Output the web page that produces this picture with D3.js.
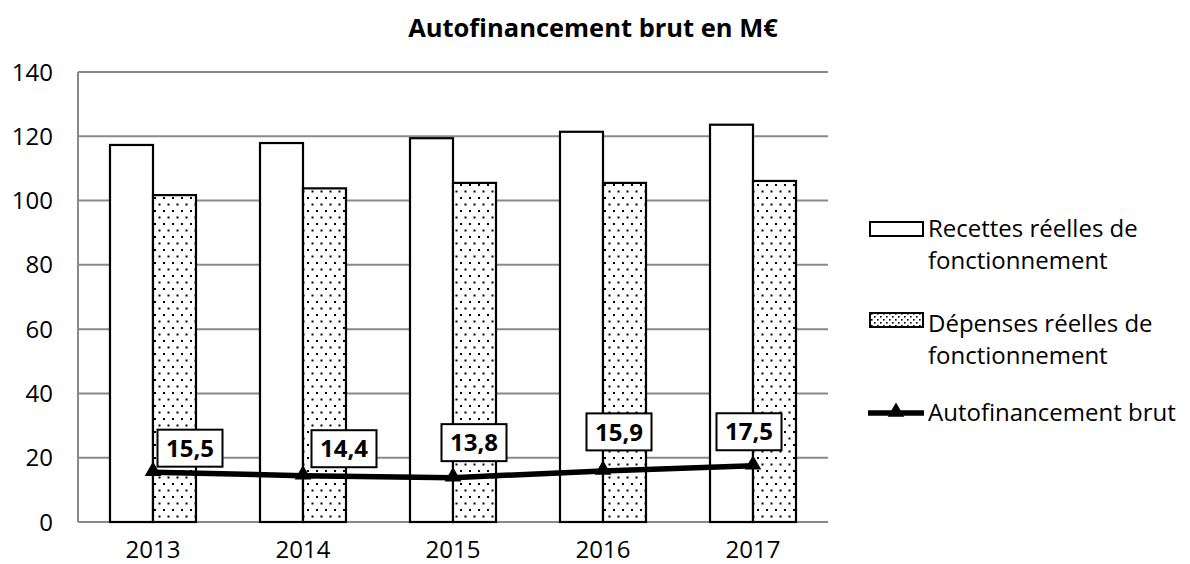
<!DOCTYPE html>
<html><head><meta charset="utf-8">
<script src="https://cdn.jsdelivr.net/npm/d3@7"></script>
<style>body{margin:0;background:#fff}svg{display:block}text{font-family:"Open Sans",sans-serif}</style>
</head><body>
<script>
const years = ["2013","2014","2015","2016","2017"];
const recettes = [117.3, 117.9, 119.4, 121.4, 123.6];
const depenses = [101.7, 103.8, 105.5, 105.5, 106.1];
const autofin = [15.5, 14.4, 13.8, 15.9, 17.5];
const yTicks = [0,20,40,60,80,100,120,140];
const seriesNames = ["Recettes réelles de|fonctionnement","Dépenses réelles de|fonctionnement","Autofinancement brut"];
const title = "Autofinancement brut en M€";
// manual label placement (layout, px offsets from point)
const labelDx = [37, 41, 21, 16, -4];
const labelDy = [-24, -27, -35, -39, -34];

const W = 1190, H = 564;
const svg = d3.select("body").append("svg").attr("width", W).attr("height", H);
const defs = svg.append("defs");
const pat = defs.append("pattern").attr("id","dots").attr("patternUnits","userSpaceOnUse")
  .attr("width",9).attr("height",13);
pat.append("rect").attr("width",9).attr("height",13).attr("fill","#fff");
pat.append("rect").attr("x",1).attr("y",2).attr("width",2).attr("height",2).attr("fill","#000");
pat.append("rect").attr("x",5.5).attr("y",8.5).attr("width",2).attr("height",2).attr("fill","#000");
const pat2 = defs.append("pattern").attr("id","dots2").attr("patternUnits","userSpaceOnUse")
  .attr("width",6).attr("height",6);
pat2.append("rect").attr("width",6).attr("height",6).attr("fill","#fff");
pat2.append("rect").attr("x",1).attr("y",1).attr("width",1.6).attr("height",1.6).attr("fill","#000");
pat2.append("rect").attr("x",4).attr("y",4).attr("width",1.6).attr("height",1.6).attr("fill","#000");

const x = d3.scaleBand().domain(years).range([78, 828]).paddingInner(0.4267).paddingOuter(0.2133);
const x1 = d3.scaleBand().domain([0,1]).range([0, x.bandwidth()]);
const y = d3.scaleLinear().domain([0,140]).range([522, 72]);

// gridlines
svg.append("g").selectAll("line").data(yTicks.filter(d=>d>0)).join("line")
  .attr("x1",78).attr("x2",828).attr("y1",d=>y(d)).attr("y2",d=>y(d))
  .attr("stroke","#898989").attr("stroke-width",2);
// axes lines
svg.append("line").attr("x1",78).attr("x2",78).attr("y1",y(140)).attr("y2",y(0)).attr("stroke","#898989").attr("stroke-width",2);
svg.append("line").attr("x1",78).attr("x2",828).attr("y1",y(0)).attr("y2",y(0)).attr("stroke","#898989").attr("stroke-width",2);

// y tick labels
svg.append("g").selectAll("text").data(yTicks).join("text")
  .attr("x",53).attr("y",d=>y(d)).attr("dy","0.36em").attr("text-anchor","end")
  .attr("font-size",24).text(d=>d);
// x labels
svg.append("g").selectAll("text").data(years).join("text")
  .attr("x",d=>x(d)+x.bandwidth()/2).attr("y",558).attr("text-anchor","middle")
  .attr("font-size",24).text(d=>d);

// bars
const g = svg.append("g");
g.selectAll("rect.r").data(years).join("rect").attr("class","r")
  .attr("x",d=>x(d)+x1(0)).attr("width",x1.bandwidth())
  .attr("y",(d,i)=>y(recettes[i])).attr("height",(d,i)=>y(0)-y(recettes[i]))
  .attr("fill","#fff").attr("stroke","#000").attr("stroke-width",2.2);
g.selectAll("rect.d").data(years).join("rect").attr("class","d")
  .attr("x",d=>x(d)+x1(1)).attr("width",x1.bandwidth())
  .attr("y",(d,i)=>y(depenses[i])).attr("height",(d,i)=>y(0)-y(depenses[i]))
  .attr("fill","url(#dots)").attr("stroke","#000").attr("stroke-width",2.2);

// line
const cx = d => x(d)+x.bandwidth()/2;
const line = d3.line().x((d,i)=>cx(years[i])).y(d=>y(d));
svg.append("path").datum(autofin).attr("d",line).attr("fill","none").attr("stroke","#000").attr("stroke-width",5.5);
const tri = d3.symbol().type(d3.symbolTriangle).size(120);
svg.append("g").selectAll("path").data(autofin).join("path")
  .attr("d",tri).attr("transform",(d,i)=>`translate(${cx(years[i])},${y(d)-1})`).attr("fill","#000");

// labels
const lab = svg.append("g").selectAll("g").data(autofin).join("g")
  .attr("transform",(d,i)=>`translate(${cx(years[i])+labelDx[i]},${y(d)+labelDy[i]})`);
lab.append("rect").attr("x",-32.5).attr("y",-18.5).attr("width",65).attr("height",37)
  .attr("fill","#fff").attr("stroke","#000").attr("stroke-width",2);
lab.append("text").attr("text-anchor","middle").attr("dy","0.36em").attr("font-size",24)
  .attr("font-weight","bold").text(d=>d3.format(".1f")(d).replace(".",","));

// title
svg.append("text").attr("x",593).attr("y",37).attr("text-anchor","middle").attr("font-size",25.5)
  .attr("font-weight","bold").text(title);

// legend
const lg = svg.append("g");
lg.append("rect").attr("x",870).attr("y",222).attr("width",53).attr("height",14).attr("fill","#fff").attr("stroke","#000").attr("stroke-width",2);
lg.append("rect").attr("x",870).attr("y",313).attr("width",53).attr("height",14).attr("fill","url(#dots2)").attr("stroke","#000").attr("stroke-width",2);
lg.append("line").attr("x1",868).attr("x2",924).attr("y1",413).attr("y2",413).attr("stroke","#000").attr("stroke-width",5.5);
lg.append("path").attr("d",tri).attr("transform","translate(896,412)").attr("fill","#000");
const legY = [237, 332, 421];
seriesNames.forEach((s,i)=>{
  const t = lg.append("text").attr("x",928).attr("y",legY[i]).attr("font-size",24);
  s.split("|").forEach((ln,j)=>t.append("tspan").attr("x",928).attr("dy",j?32:0).text(ln));
});
</script>
</body></html>
